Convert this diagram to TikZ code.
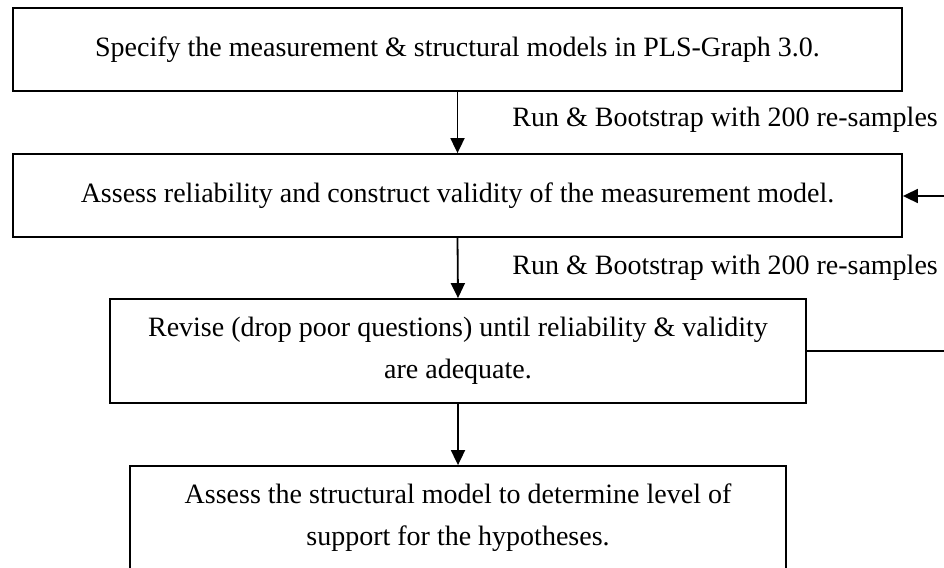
\documentclass[tikz,border=0pt]{standalone}
\usepackage{fontspec}
\setmainfont{Liberation Serif}
\usetikzlibrary{arrows.meta,calc}
\begin{document}
\begin{tikzpicture}[x=1pt,y=-1pt,
  stepbox/.style={draw=black,line width=1.8pt,fill=white,inner sep=0pt,align=center,
    font=\fontsize{28}{42}\selectfont},
  conn/.style={line width=1.8pt,-{Triangle[length=15pt,width=14pt]}},
  lbl/.style={font=\fontsize{28}{42}\selectfont,inner sep=0pt}]
\useasboundingbox (0,0) rectangle (944,567);
\node[stepbox,minimum width=889pt,minimum height=83pt] (b1) at (457.5,49.5)
  {Specify the measurement \& structural models in PLS-Graph 3.0.};
\node[stepbox,minimum width=889pt,minimum height=83pt] (b2) at (457.5,195.5)
  {Assess reliability and construct validity of the measurement model.};
\node[stepbox,minimum width=696pt,minimum height=104pt] (b3) at (458,351)
  {Revise (drop poor questions) until reliability \& validity\\are adequate.};
\node[stepbox,minimum width=656pt,minimum height=104pt] (b4) at (458,518)
  {Assess the structural model to determine level of\\support for the hypotheses.};
\draw[conn] (b1.south) -- (b2.north);
\draw[conn] (b2.south) -- (b3.north);
\draw[conn] (b3.south) -- (b4.north);
\coordinate (fbr) at (950,351);
\coordinate (fbt) at (950,196);
\draw[conn] (b3.east) -- (fbr) -- (fbt) -- (b2.east |- fbt);
\node[lbl,anchor=east] (l1) at (938,120) {Run \& Bootstrap with 200 re-samples};
\node[lbl,anchor=east] (l2) at (938,268) {Run \& Bootstrap with 200 re-samples};
\end{tikzpicture}
\end{document}
